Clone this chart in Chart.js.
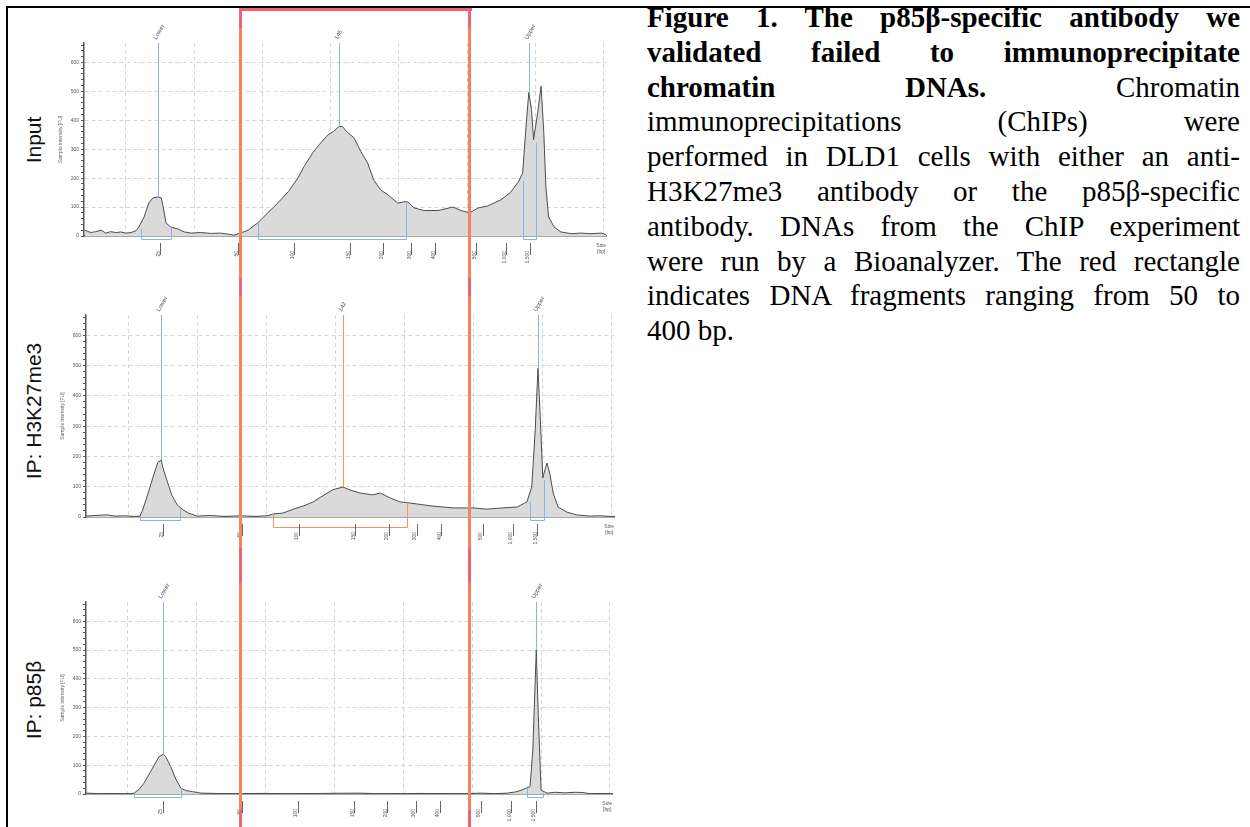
<!DOCTYPE html>
<html>
<head>
<meta charset="utf-8">
<title>Figure 1 - Bioanalyzer traces</title>
<script src="https://cdn.jsdelivr.net/npm/chart.js@4.4.1/dist/chart.umd.min.js"></script>
<style>
  html, body { margin: 0; padding: 0; background: #fff; }
  body { width: 1250px; height: 827px; position: relative; overflow: hidden; font-family: "Liberation Sans", Arial, sans-serif; }
  .frame-top { position: absolute; left: 6px; top: 6px; width: 1244px; height: 2px; background: #000; }
  .frame-left { position: absolute; left: 6px; top: 6px; width: 2px; height: 821px; background: #000; }
  canvas { position: absolute; }
  .name { position: absolute; font-size: 21px; color: #111; white-space: nowrap; transform: translate(-50%, -50%) rotate(-90deg); }
  .rect-top { position: absolute; left: 239px; top: 8px; width: 233px; height: 3px; background: #ee6473; z-index: 5; }
  .rect-side { position: absolute; top: 8px; width: 3px; height: 819px; z-index: 5;
    background: linear-gradient(to bottom, #ee6473 0px, #ee6473 20px, #f3845c 20px, #f3845c 270px, #ee6473 270px, #ee6473 288px,
      #f3845c 288px, #f3845c 540px, #ee6473 540px, #ee6473 575px, #f3845c 575px, #f3845c 802px, #ee6473 802px); }
  .caption { position: absolute; left: 647px; top: 0px; width: 593px; font-family: "Liberation Serif", "Times New Roman", serif; font-size: 29px; line-height: 34.8px; color: #000; }
  .caption div { text-align: justify; text-align-last: justify; }
  .caption div.last { text-align-last: left; }
</style>
</head>
<body>
<div class="frame-top"></div>
<div class="frame-left"></div>

<canvas id="panelInput"></canvas>
<canvas id="panelH3"></canvas>
<canvas id="panelP85"></canvas>

<div class="name" style="left:34px; top:140px;">Input</div>
<div class="name" style="left:34px; top:411px;">IP: H3K27me3</div>
<div class="name" style="left:34px; top:700px;">IP: p85β</div>

<div class="rect-top"></div>
<div class="rect-side" style="left:239px;"></div>
<div class="rect-side" style="left:468px;"></div>

<div class="caption">
  <div><b>Figure 1. The p85β-specific antibody we</b></div>
  <div><b>validated failed to immunoprecipitate</b></div>
  <div><b>chromatin DNAs.</b> Chromatin</div>
  <div>immunoprecipitations (ChIPs) were</div>
  <div>performed in DLD1 cells with either an anti-</div>
  <div>H3K27me3 antibody or the p85β-specific</div>
  <div>antibody. DNAs from the ChIP experiment</div>
  <div>were run by a Bioanalyzer. The red rectangle</div>
  <div>indicates DNA fragments ranging from 50 to</div>
  <div class="last">400 bp.</div>
</div>

<script>
// ---------- data ----------
// migration time axis (s) and the size ladder shown under it
const timeMin = 43.9;
const timeMax = 120.3;
const sizeTickTimes = [54.8, 66.2, 74.4, 82.6, 87.4, 91.5, 95.0, 101.0, 105.4, 108.9];
const sizeTickLabels = ['25', '50', '100', '150', '200', '300', '400', '500', '1,000', '1,500'];
const intensityMax = 667;

// Input
const inputTimes = [44.0, 44.9, 45.6, 46.4, 47.1, 47.8, 48.6, 49.3, 50.0, 50.8,
  51.5, 51.9, 52.7, 53.4, 54.0, 54.7, 55.2, 55.5, 55.9, 56.6,
  57.7, 58.6, 59.6, 61.0, 62.4, 63.9, 65.1, 65.8, 66.8, 67.9,
  69.3, 70.8, 72.3, 73.8, 75.2, 76.1, 77.4, 78.3, 79.6, 80.4,
  81.2, 81.7, 82.5, 83.4, 84.4, 85.4, 86.3, 87.3, 88.4, 89.8,
  90.7, 91.3, 92.2, 93.7, 95.7, 97.9, 99.1, 100.3, 101.6, 103.0,
  104.9, 106.3, 107.5, 108.1, 108.6, 109.0, 109.4, 109.7, 110.3, 110.8,
  111.2, 111.5, 111.9, 112.7, 113.7, 115.2, 116.6, 118.1, 119.6, 120.3];
const inputValues = [20, 12, 15, 20, 10, 15, 12, 14, 10, 12,
  18, 30, 66, 115, 132, 135, 132, 100, 45, 31,
  24, 14, 10, 12, 9, 10, 6, 3, 10, 20,
  45, 80, 115, 153, 200, 240, 288, 315, 350, 361,
  378, 379, 357, 340, 293, 253, 194, 160, 142, 114,
  118, 118, 97, 88, 88, 100, 88, 80, 97, 104,
  125, 150, 188, 218, 380, 496, 437, 333, 426, 518,
  357, 170, 66, 31, 14, 8, 10, 8, 10, 5];

// IP: H3K27me3
const h3Times = [43.9, 45.2, 46.9, 48.1, 49.5, 50.9, 51.7, 52.1, 52.9, 53.6,
  54.3, 54.8, 55.0, 55.6, 56.3, 57.1, 57.8, 58.7, 60.0, 61.8,
  64.0, 66.2, 68.4, 70.1, 71.0, 72.4, 73.9, 75.3, 76.8, 77.8,
  79.6, 81.1, 82.1, 83.6, 85.4, 86.5, 87.9, 89.3, 90.8, 94.1,
  97.0, 99.9, 101.9, 104.2, 106.3, 107.7, 108.4, 108.9, 109.3, 109.6,
  110.0, 110.3, 110.6, 111.0, 111.5, 112.2, 113.5, 114.9, 116.8, 118.3,
  119.7, 120.3];
const h3Values = [3, 5, 7, 3, 4, 2, 3, 23, 79, 132,
  181, 188, 165, 122, 73, 40, 26, 13, 3, 5,
  2, 4, 2, 4, 10, 13, 26, 36, 50, 65,
  90, 99, 89, 79, 73, 79, 63, 50, 46, 36,
  30, 30, 26, 30, 33, 50, 99, 287, 491, 343,
  129, 155, 178, 145, 79, 33, 16, 7, 3, 4,
  2, 2];

// IP: p85beta
const p85Times = [43.9, 46.1, 47.5, 49.0, 50.0, 50.9, 51.6, 52.3, 53.0, 53.8,
  54.5, 55.1, 55.5, 56.2, 57.0, 57.7, 58.4, 59.4, 60.6, 62.8,
  65.7, 69.3, 73.6, 78.0, 83.3, 86.7, 92.5, 98.3, 101.4, 103.3,
  105.1, 106.5, 107.4, 108.4, 108.8, 109.3, 109.6, 110.0, 110.9, 112.0,
  113.5, 114.9, 116.1, 117.1, 118.6, 120.0, 120.3];
const p85Values = [3, 1, 2, 1, 0, 3, 16, 37, 66, 100,
  129, 138, 129, 95, 49, 20, 12, 8, 3, 2,
  1, 2, 1, 2, 3, 1, 2, 1, 3, 1,
  3, 8, 16, 26, 153, 500, 268, 13, 3, 6,
  4, 6, 5, 1, 2, 1, 1];

// peak markers: time, height, tag, colour key
const inputMarkers = [[54.7, 135, 'Lower', 'blue'], [81.2, 379, '145', 'blue'], [109.0, 496, 'Upper', 'blue']];
const h3Markers = [[54.8, 188, 'Lower', 'blue'], [81.1, 99, '142', 'orange'], [109.3, 491, 'Upper', 'blue']];
const p85Markers = [[55.1, 138, 'Lower', 'blue'], [109.3, 500, 'Upper', 'blue']];

// integrated regions: start time, start height, end time, end height, colour key
const inputRegions = [[52.2, 25, 56.6, 31, 'blue'], [69.3, 45, 91.1, 118, 'blue'], [108.1, 190, 110.0, 323, 'blue']];
const h3Regions = [[51.7, 3, 57.5, 30, 'blue'], [70.9, 10, 90.4, 48, 'orange'], [108.2, 50, 110.2, 122, 'blue']];
const p85Regions = [[50.8, 3, 57.7, 20, 'blue'], [108.0, 20, 110.3, 5, 'blue']];

// ---------- drawing ----------
const colours = { blue: '#86b4e6', orange: '#f59360' };
Chart.defaults.font.family = '"Liberation Sans", Arial, sans-serif';

// one decoration plugin per panel, holding that panel's markers and regions
function makeDecor(markers, regions) {
  return {
    id: 'bioDecor',
    afterDatasetsDraw(chart) {
      const { ctx, chartArea } = chart;
      const x = chart.scales.x, y = chart.scales.y, x2 = chart.scales.x2;
      ctx.save();
      ctx.lineWidth = 1;

      regions.forEach(r => {
        const base = chartArea.bottom + (r[4] === 'orange' ? 10 : 3) + 0.5;
        const a = Math.round(x.getPixelForValue(r[0])) + 0.5;
        const b = Math.round(x.getPixelForValue(r[2])) + 0.5;
        ctx.strokeStyle = colours[r[4]];
        ctx.beginPath();
        ctx.moveTo(a, y.getPixelForValue(r[1]));
        ctx.lineTo(a, base);
        ctx.lineTo(b, base);
        ctx.lineTo(b, y.getPixelForValue(r[3]));
        ctx.stroke();
      });

      markers.forEach(m => {
        const px = Math.round(x.getPixelForValue(m[0])) + 0.5;
        ctx.strokeStyle = colours[m[3]];
        ctx.beginPath();
        ctx.moveTo(px, chartArea.top);
        ctx.lineTo(px, y.getPixelForValue(m[1]));
        ctx.stroke();
        ctx.save();
        ctx.translate(px - 2, chartArea.top - 3);
        ctx.rotate(-Math.PI / 3);
        ctx.fillStyle = '#555';
        ctx.font = '6px "Liberation Sans", Arial, sans-serif';
        ctx.fillText(m[2], 0, 0);
        ctx.restore();
      });

      // little tick bars beside the size labels
      ctx.strokeStyle = '#666';
      x2.ticks.forEach(tk => {
        const px = Math.round(x2.getPixelForValue(tk.value)) + 2.5;
        ctx.beginPath();
        ctx.moveTo(px, chartArea.bottom + 7);
        ctx.lineTo(px, chartArea.bottom + 19);
        ctx.stroke();
      });

      ctx.fillStyle = '#555';
      ctx.font = '5px "Liberation Sans", Arial, sans-serif';
      ctx.textAlign = 'center';
      const sx = x.getPixelForValue(119.6);
      ctx.fillText('Size', sx, chartArea.bottom + 11);
      ctx.fillText('[bp]', sx, chartArea.bottom + 17);
      ctx.restore();
    }
  };
}

function buildPanel(id, box, times, values, markers, regions) {
  const canvas = document.getElementById(id);
  canvas.width = box.w;
  canvas.height = box.h;
  canvas.style.left = box.x + 'px';
  canvas.style.top = box.y + 'px';

  new Chart(canvas, {
    type: 'line',
    data: {
      datasets: [{
        data: times.map((t, i) => ({ x: t, y: values[i] })),
        borderColor: '#4d4d4d',
        borderWidth: 1,
        backgroundColor: '#dadada',
        fill: 'origin',
        pointRadius: 0,
        tension: 0
      }]
    },
    options: {
      responsive: false,
      animation: false,
      layout: { padding: { top: 22, right: 22, left: 0, bottom: 0 } },
      plugins: {
        legend: { display: false },
        tooltip: { enabled: false }
      },
      scales: {
        x: {
          type: 'linear', min: timeMin, max: timeMax,
          ticks: { display: false, stepSize: 10, includeBounds: false },
          grid: { color: '#d6d6d6', drawTicks: false },
          border: { color: '#555', width: 1.5, dash: [4, 3] },
          afterFit: s => { s.height = 0; }
        },
        x2: {
          type: 'linear', position: 'bottom', min: timeMin, max: timeMax,
          grid: { display: false },
          border: { display: false },
          afterBuildTicks: s => { s.ticks = sizeTickTimes.map(v => ({ value: v })); },
          ticks: {
            autoSkip: false, maxRotation: 90, minRotation: 90, padding: 7,
            font: { size: 5 }, color: '#555',
            callback: (v, i) => sizeTickLabels[i]
          },
          afterFit: s => { s.height = 30; }
        },
        y: {
          min: 0, max: intensityMax,
          ticks: {
            stepSize: 20, includeBounds: false, autoSkip: false, padding: 2,
            font: { size: 5 }, color: '#555',
            callback: v => (v % 100 === 0 ? v : '')
          },
          grid: {
            color: c => (c.tick && c.tick.value > 0 && c.tick.value % 100 === 0) ? '#d6d6d6' : 'rgba(0,0,0,0)',
            tickColor: '#555', tickLength: 3
          },
          border: { color: '#555', width: 1.5, dash: [4, 3] },
          title: { display: true, text: 'Sample intensity [FU]', font: { size: 5 }, color: '#666', padding: 0 },
          afterFit: s => { s.width = 26; }
        }
      }
    },
    plugins: [makeDecor(markers, regions)]
  });
}

buildPanel('panelInput', { x: 58, y: 21, w: 570, h: 245 }, inputTimes, inputValues, inputMarkers, inputRegions);
buildPanel('panelH3', { x: 60, y: 293, w: 576, h: 254 }, h3Times, h3Values, h3Markers, h3Regions);
buildPanel('panelP85', { x: 60, y: 580, w: 574, h: 244 }, p85Times, p85Values, p85Markers, p85Regions);
</script>
</body>
</html>
